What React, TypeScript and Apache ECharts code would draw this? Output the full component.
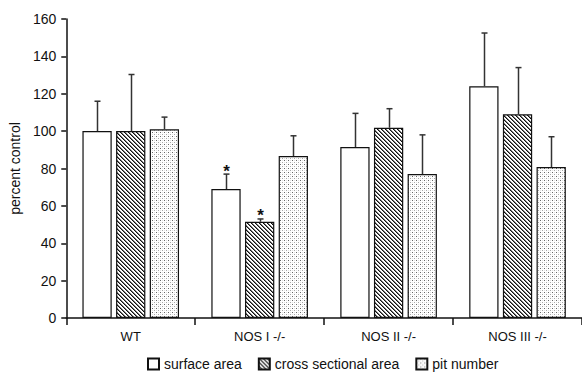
import React, { useEffect, useRef } from "react";
import * as echarts from "echarts";

const categories = ["WT", "NOS I -/-", "NOS II -/-", "NOS III -/-"];
const seriesNames = ["surface area", "cross sectional area", "pit number"];
const surfaceArea = [100, 69, 91.5, 124];
const surfaceAreaSD = [16, 8, 18, 28.5];
const crossSectionalArea = [100, 51.5, 101.8, 109];
const crossSectionalAreaSD = [30.3, 1.5, 10.2, 25];
const pitNumber = [101, 86.7, 77, 80.8];
const pitNumberSD = [6.5, 10.8, 21, 16.2];
const surfaceAreaSig = [false, true, false, false];
const crossSectionalAreaSig = [false, true, false, false];
const pitNumberSig = [false, false, false, false];

const BAR_W = 0.227;
const BAR_GAP = 0.15;
const FONT = "'Liberation Sans', Arial, sans-serif";

function makeHatch() {
  const c = document.createElement("canvas");
  c.width = 4;
  c.height = 4;
  const ctx = c.getContext("2d")!;
  ctx.fillStyle = "#ffffff";
  ctx.fillRect(0, 0, 4, 4);
  for (let y = 0; y < 4; y++) {
    ctx.fillStyle = "#111111";
    ctx.fillRect(y, y, 1, 1);
    ctx.fillStyle = "#777777";
    ctx.fillRect((y + 1) % 4, y, 1, 1);
  }
  return c;
}

function makeDots() {
  const c = document.createElement("canvas");
  c.width = 4;
  c.height = 4;
  const ctx = c.getContext("2d")!;
  ctx.fillStyle = "#ffffff";
  ctx.fillRect(0, 0, 4, 4);
  ctx.fillStyle = "#666666";
  ctx.fillRect(0, 0, 1, 1);
  ctx.fillStyle = "#a8a8a8";
  ctx.fillRect(2, 2, 1, 1);
  ctx.fillStyle = "#e2e2e2";
  ctx.fillRect(2, 0, 1, 1);
  ctx.fillRect(0, 2, 1, 1);
  return c;
}

function errorSeries(values: number[], sds: number[], sig: boolean[], idx: number) {
  return {
    type: "custom",
    name: seriesNames[idx] + " error",
    silent: true,
    z: 5,
    encode: { x: 0, y: 1 },
    data: values.map((v, i) => [i, v, sds[i], sig[i] ? 1 : 0]),
    renderItem: (params: any, api: any) => {
      const cat = api.value(0);
      const val = api.value(1);
      const sd = api.value(2);
      const star = api.value(3);
      const p0 = api.coord([cat, val]);
      const p1 = api.coord([cat, val + sd]);
      const catW = api.size([1, 0])[0];
      const w = catW * BAR_W;
      const off = (idx - 1) * (w * (1 + BAR_GAP));
      const x = Math.round(p0[0] + off) + 0.5;
      const children: any[] = [
        {
          type: "line",
          shape: { x1: x, y1: p0[1], x2: x, y2: p1[1] },
          style: { stroke: "#333", lineWidth: 1.5 },
        },
        {
          type: "line",
          shape: { x1: x - 3, y1: p1[1], x2: x + 3, y2: p1[1] },
          style: { stroke: "#333", lineWidth: 1.5 },
        },
      ];
      if (star) {
        children.push({
          type: "text",
          x: x,
          y: p1[1] - 3,
          style: {
            text: "*",
            fill: "#111",
            font: `bold 17px ${FONT}`,
            align: "center",
            verticalAlign: "middle",
          },
        });
      }
      return { type: "group", children };
    },
  };
}

export default function App() {
  const ref = useRef<HTMLDivElement>(null);
  useEffect(() => {
    if (!ref.current) return;
    const chart = echarts.init(ref.current, null, { renderer: "svg" });
    const hatch = makeHatch();
    const dots = makeDots();
    const fills: any[] = [
      "#ffffff",
      { image: hatch, repeat: "repeat" },
      { image: dots, repeat: "repeat" },
    ];
    const barData = [surfaceArea, crossSectionalArea, pitNumber];
    const option: any = {
      animation: false,
      backgroundColor: "#ffffff",
      textStyle: { fontFamily: FONT },
      grid: { left: 66, top: 19, width: 520, height: 299 },
      legend: {
        data: seriesNames,
        bottom: 8,
        left: 142,
        itemWidth: 11,
        itemHeight: 11,
        itemGap: 16,
        icon: "rect",
        textStyle: { fontSize: 14, color: "#111", fontFamily: FONT },
      },
      xAxis: {
        type: "category",
        data: categories,
        axisLine: { lineStyle: { color: "#111", width: 1.5 } },
        axisTick: { show: true, length: 7, lineStyle: { color: "#111", width: 1.5 } },
        axisLabel: { color: "#111", fontSize: 13, margin: 12, fontFamily: FONT },
      },
      yAxis: {
        type: "value",
        min: 0,
        max: 160,
        interval: 20,
        name: "percent control",
        nameLocation: "middle",
        nameGap: 44,
        nameTextStyle: { fontSize: 14, color: "#111", fontFamily: FONT },
        splitLine: { show: false },
        axisLine: { show: true, lineStyle: { color: "#111", width: 1.5 } },
        axisTick: { show: true, length: 5, lineStyle: { color: "#111", width: 1.5 } },
        axisLabel: { color: "#111", fontSize: 14, margin: 10, fontFamily: FONT },
      },
      series: [
        ...barData.map((d, i) => ({
          type: "bar",
          name: seriesNames[i],
          data: d,
          barWidth: BAR_W * 100 + "%",
          barGap: BAR_GAP * 100 + "%",
          itemStyle: { color: fills[i], borderColor: "#111", borderWidth: 1.2 },
        })),
        errorSeries(surfaceArea, surfaceAreaSD, surfaceAreaSig, 0),
        errorSeries(crossSectionalArea, crossSectionalAreaSD, crossSectionalAreaSig, 1),
        errorSeries(pitNumber, pitNumberSD, pitNumberSig, 2),
      ],
    };
    chart.setOption(option);
    return () => chart.dispose();
  }, []);
  return <div ref={ref} style={{ width: 582, height: 384, position: "absolute", left: 0, top: 0 }} />;
}
